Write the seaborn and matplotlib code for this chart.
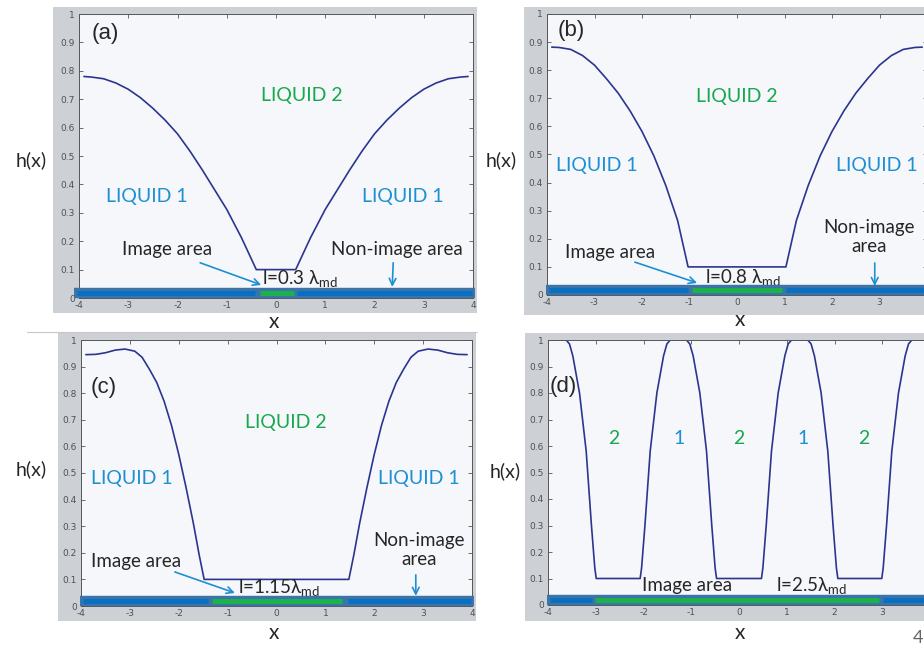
import matplotlib
matplotlib.use("Agg")
import matplotlib.pyplot as plt
from matplotlib.patches import Rectangle
import seaborn as sns

W, H = 924, 645

# ---- curve data ----
a_x = [-3.9, -3.75, -3.5, -3.25, -3.0, -2.75, -2.5, -2.25, -2.0, -1.75, -1.5, -1.25, -1.0, -0.7, -0.4,
       0.4, 0.7, 1.0, 1.25, 1.5, 1.75, 2.0, 2.25, 2.5, 2.75, 3.0, 3.25, 3.5, 3.75, 3.9]
a_h = [0.78, 0.778, 0.772, 0.757, 0.735, 0.705, 0.668, 0.626, 0.578, 0.518, 0.452, 0.382, 0.312, 0.212, 0.10,
       0.10, 0.212, 0.312, 0.382, 0.452, 0.518, 0.578, 0.626, 0.668, 0.705, 0.735, 0.757, 0.772, 0.778, 0.78]

b_x = [-3.9, -3.75, -3.5, -3.25, -3.0, -2.75, -2.5, -2.25, -2.0, -1.75, -1.5, -1.25, -1.03,
       1.03, 1.25, 1.5, 1.75, 2.0, 2.25, 2.5, 2.75, 3.0, 3.25, 3.5, 3.75, 3.9]
b_h = [0.882, 0.881, 0.874, 0.852, 0.818, 0.77, 0.718, 0.655, 0.582, 0.495, 0.39, 0.265, 0.10,
       0.10, 0.265, 0.39, 0.495, 0.582, 0.655, 0.718, 0.77, 0.818, 0.852, 0.874, 0.881, 0.882]

c_x = [-3.9, -3.7, -3.5, -3.3, -3.1, -2.9, -2.75, -2.6, -2.45, -2.3, -2.15, -2.0, -1.85, -1.7, -1.58, -1.48,
       1.48, 1.58, 1.7, 1.85, 2.0, 2.15, 2.3, 2.45, 2.6, 2.75, 2.9, 3.1, 3.3, 3.5, 3.7, 3.9]
c_h = [0.945, 0.946, 0.952, 0.962, 0.966, 0.958, 0.935, 0.89, 0.84, 0.77, 0.68, 0.57, 0.445, 0.31, 0.19, 0.10,
       0.10, 0.19, 0.31, 0.445, 0.57, 0.68, 0.77, 0.84, 0.89, 0.935, 0.958, 0.966, 0.962, 0.952, 0.946, 0.945]

d_x = [-3.95, -3.62, -3.55, -3.48, -3.34, -3.20, -3.09, -3.02, -2.99,
       -2.07, -2.04, -1.97, -1.86, -1.72, -1.58, -1.51, -1.44,
       -1.10, -1.03, -0.96, -0.82, -0.68, -0.57, -0.50, -0.47,
       0.47, 0.50, 0.57, 0.68, 0.82, 0.96, 1.03, 1.10,
       1.44, 1.51, 1.58, 1.72, 1.86, 1.97, 2.04, 2.07,
       2.99, 3.02, 3.09, 3.20, 3.34, 3.48, 3.55, 3.62, 3.95]
d_h = [1.0, 1.0, 0.985, 0.94, 0.80, 0.58, 0.30, 0.14, 0.10,
       0.10, 0.14, 0.30, 0.58, 0.80, 0.94, 0.985, 1.0,
       1.0, 0.985, 0.94, 0.80, 0.58, 0.30, 0.14, 0.10,
       0.10, 0.14, 0.30, 0.58, 0.80, 0.94, 0.985, 1.0,
       1.0, 0.985, 0.94, 0.80, 0.58, 0.30, 0.14, 0.10,
       0.10, 0.14, 0.30, 0.58, 0.80, 0.94, 0.985, 1.0, 1.0]

# substrate: image area (green) and gap in the non-image stripe (blue)
bar_left = [-4.1, -4.02, -4.02, -4.02]
green_start = [-0.32, -0.95, -1.32, -3.02]
green_end = [0.37, 0.95, 1.35, 2.93]
gap_start = [-0.43, -1.03, -1.40, -3.08]
gap_end = [0.43, 1.03, 1.46, 3.02]

x_ticks = [-4, -3, -2, -1, 0, 1, 2, 3, 4]
y_ticks = [0, 0.1, 0.2, 0.3, 0.4, 0.5, 0.6, 0.7, 0.8, 0.9, 1]
y_ticklabels = ["0", "0.1", "0.2", "0.3", "0.4", "0.5", "0.6", "0.7", "0.8", "0.9", "1"]

sns.set_theme(style="ticks")
plt.rcParams["font.family"] = ["Lato", "DejaVu Sans"]
plt.rcParams["axes.unicode_minus"] = False
plt.rcParams["mathtext.fontset"] = "custom"
plt.rcParams["mathtext.rm"] = "Lato"
plt.rcParams["mathtext.it"] = "Lato:italic"

NAVY = "#2b3590"
BLUE = "#1d8fd2"
GREEN = "#17a84f"
DARK = "#262626"
GRAY = "#cdd1d6"
FACE = "#f5f7fa"

fig = plt.figure(figsize=(W / 100, H / 100), dpi=100)


def fbox(l, t, r, b):
    return [l / W, 1 - b / H, (r - l) / W, (b - t) / H]


gray_boxes = [(53, 7, 477, 313), (524, 7, 924, 315), (58, 333, 476, 621), (525, 333, 924, 621)]
axes_boxes = [(79, 14, 473, 298), (547, 14, 927, 295), (81, 340, 472, 606), (548, 340, 930, 605)]

for g in gray_boxes:
    l, b, w, h = fbox(*g)
    fig.add_artist(Rectangle((l, b), w, h, transform=fig.transFigure,
                             facecolor=GRAY, edgecolor="none", zorder=-5))
fig.add_artist(plt.Line2D([27 / W, 477 / W], [1 - 332 / H, 1 - 332 / H],
                          transform=fig.transFigure, color="#c8c8c8", lw=0.8))

curves = [(a_x, a_h), (b_x, b_h), (c_x, c_h), (d_x, d_h)]
axes = []
for i, box in enumerate(axes_boxes):
    ax = fig.add_axes(fbox(*box))
    ax.set_facecolor(FACE)
    x, h = curves[i]
    sns.lineplot(x=x, y=h, ax=ax, color=NAVY, linewidth=1.2, sort=False, estimator=None)
    ax.set_xlim(-4, 4)
    ax.set_ylim(0, 1)
    ax.set_xticks(x_ticks)
    labels = [str(t) for t in x_ticks]
    if i in (1, 3):
        # right end of these panels is cut off by the page edge
        labels[-1] = ""
    ax.set_xticklabels(labels)
    ax.set_yticks(y_ticks)
    ax.set_yticklabels(y_ticklabels)
    ax.tick_params(direction="in", length=3, width=0.6, top=True, right=True,
                   labelsize=6.5, color="#555555", labelcolor="#505050")
    ax.tick_params(axis="x", pad=2.5)
    ax.tick_params(axis="y", pad=3)
    for lab in ax.get_xticklabels() + ax.get_yticklabels():
        lab.set_family("DejaVu Sans")
    for s in ax.spines.values():
        s.set_linewidth(0.7)
        s.set_color("#555555")
    ax.set_xlabel("")
    ax.set_ylabel("")

    # substrate bar
    ax.hlines(0.019, bar_left[i], 4.05, colors="#3a74a8", linewidth=7.5,
              clip_on=False, zorder=5, capstyle="butt")
    ax.hlines([0.019, 0.019], [bar_left[i] + 0.06, gap_end[i]], [gap_start[i], 3.98],
              colors="#0a6fc1", linewidth=3.6, clip_on=False, zorder=6, capstyle="butt")
    ax.hlines(0.019, green_start[i], green_end[i], colors="#1db14b",
              linewidth=3.6, clip_on=False, zorder=7, capstyle="butt")
    axes.append(ax)

ax_a, ax_b, ax_c, ax_d = axes
arrow = dict(arrowstyle="->", color=BLUE, lw=1.2, shrinkA=0, shrinkB=0,
             mutation_scale=12)
kw = dict(ha="center", va="center")

# (a)
ax_a.text(-3.47, 0.93, "(a)", fontsize=16, color=DARK, family="Liberation Sans", **kw)
ax_a.text(0.53, 0.714, "LIQUID 2", fontsize=14, color=GREEN, **kw)
ax_a.text(-2.62, 0.357, "LIQUID 1", fontsize=14, color=BLUE, **kw)
ax_a.text(2.58, 0.357, "LIQUID 1", fontsize=14, color=BLUE, **kw)
ax_a.text(-2.21, 0.17, "Image area", fontsize=13.5, color=DARK, **kw)
ax_a.text(2.46, 0.17, "Non-image area", fontsize=13.5, color=DARK, **kw)
ax_a.text(-0.28, 0.067, r"l=0.3 λ$_{\mathrm{md}}$", fontsize=13.5, color=DARK, ha="left", va="center")
ax_a.annotate("", xy=(-0.30, 0.046), xytext=(-1.54, 0.124), arrowprops=arrow)
ax_a.annotate("", xy=(2.36, 0.039), xytext=(2.38, 0.124), arrowprops=arrow)

# (b)
ax_b.text(-3.49, 0.943, "(b)", fontsize=16, color=DARK, family="Liberation Sans", **kw)
ax_b.text(0.0, 0.705, "LIQUID 2", fontsize=14, color=GREEN, **kw)
ax_b.text(-2.95, 0.46, "LIQUID 1", fontsize=14, color=BLUE, **kw)
ax_b.text(2.95, 0.46, "LIQUID 1", fontsize=14, color=BLUE, **kw)
ax_b.text(-2.67, 0.15, "Image area", fontsize=13.5, color=DARK, **kw)
ax_b.text(2.78, 0.206, "Non-image\narea", fontsize=13.5, color=DARK, linespacing=1.15, **kw)
ax_b.text(-0.67, 0.064, r"l=0.8 λ$_{\mathrm{md}}$", fontsize=13.5, color=DARK, ha="left", va="center")
ax_b.annotate("", xy=(-0.84, 0.043), xytext=(-2.15, 0.117), arrowprops=arrow)
ax_b.annotate("", xy=(2.9, 0.032), xytext=(2.9, 0.114), arrowprops=arrow)

# (c)
ax_c.text(-3.53, 0.823, "(c)", fontsize=16, color=DARK, family="Liberation Sans", **kw)
ax_c.text(0.19, 0.688, "LIQUID 2", fontsize=14, color=GREEN, **kw)
ax_c.text(-2.96, 0.481, "LIQUID 1", fontsize=14, color=BLUE, **kw)
ax_c.text(2.92, 0.481, "LIQUID 1", fontsize=14, color=BLUE, **kw)
ax_c.text(-2.87, 0.169, "Image area", fontsize=13.5, color=DARK, **kw)
ax_c.text(2.92, 0.209, "Non-image\narea", fontsize=13.5, color=DARK, linespacing=1.15, **kw)
ax_c.text(-0.79, 0.068, r"l=1.15λ$_{\mathrm{md}}$", fontsize=13.5, color=DARK, ha="left", va="center")
ax_c.annotate("", xy=(-0.85, 0.049), xytext=(-2.08, 0.128), arrowprops=arrow)
ax_c.annotate("", xy=(2.85, 0.038), xytext=(2.85, 0.117), arrowprops=arrow)

# (d)
ax_d.text(-3.69, 0.823, "(d)", fontsize=16, color=DARK, family="Liberation Sans", **kw)
d_num_x = [-2.62, -1.26, 0.0, 1.34, 2.62]
d_num = ["2", "1", "2", "1", "2"]
for xx, n in zip(d_num_x, d_num):
    ax_d.text(xx, 0.627, n, fontsize=14, color=GREEN if n == "2" else BLUE, **kw)
ax_d.text(-1.09, 0.072, "Image area", fontsize=13.5, color=DARK, **kw)
ax_d.text(0.78, 0.072, r"l=2.5λ$_{\mathrm{md}}$", fontsize=13.5, color=DARK, ha="left", va="center")

# axis labels as figure text
for (px, py) in [(31, 160), (501, 160), (31, 469), (505, 471)]:
    fig.text(px / W, 1 - py / H, "h(x)", fontsize=14, color=DARK, ha="center", va="center")
for (px, py) in [(274, 322), (740, 320), (274, 633), (740, 633)]:
    fig.text(px / W, 1 - py / H, "x", fontsize=15, color=DARK, ha="center", va="center")
fig.text(918 / W, 1 - 638 / H, "4", fontsize=13, color="#666666", ha="center", va="center")

fig.savefig("out.png", dpi=100)
